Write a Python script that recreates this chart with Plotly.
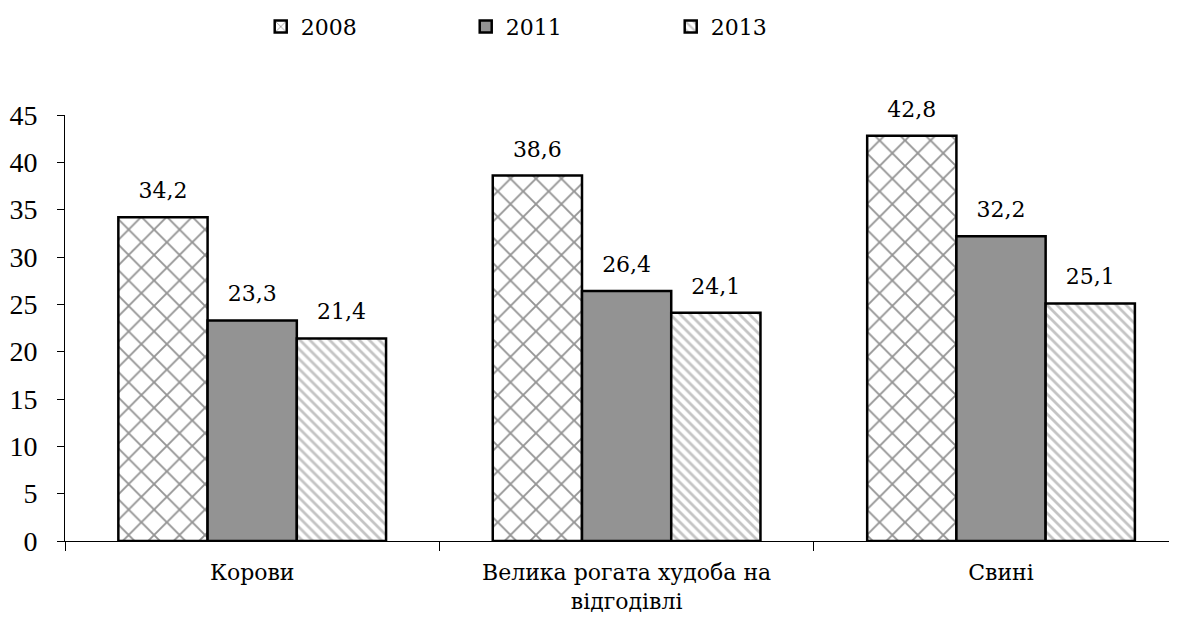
import plotly.graph_objects as go

categories = ["Корови", "Велика рогата худоба на<br>відгодівлі", "Свині"]
years = ["2008", "2011", "2013"]
values_2008 = [34.2, 38.6, 42.8]
values_2011 = [23.3, 26.4, 32.2]
values_2013 = [21.4, 24.1, 25.1]
y_ticks = [0, 5, 10, 15, 20, 25, 30, 35, 40, 45]

label_font = "DejaVu Serif"
tick_font = "Liberation Serif"

series = [
    (years[0], values_2008, dict(color="white", line=dict(color="black", width=2.5),
                                 pattern=dict(shape="x", fgcolor="#2a2a2a", bgcolor="white", size=18, solidity=0.2))),
    (years[1], values_2011, dict(color="#939393", line=dict(color="black", width=2.5))),
    (years[2], values_2013, dict(color="white", line=dict(color="black", width=2.5),
                                 pattern=dict(shape="\\", fgcolor="#8a8a8a", bgcolor="white", size=7, solidity=0.4))),
]

fig = go.Figure()
for i, (name, vals, marker) in enumerate(series):
    fig.add_trace(go.Bar(name=name, x=categories, y=vals, marker=marker,
                         offsetgroup=str(i), hoverinfo="skip"))
for i, (name, vals, marker) in enumerate(series):
    fig.add_trace(go.Scatter(x=categories, y=vals, mode="markers+text", offsetgroup=str(i),
                             marker=dict(size=20, opacity=0), showlegend=False,
                             text=[f"{v:.1f}".replace(".", ",") for v in vals],
                             textposition="top center", cliponaxis=False, hoverinfo="skip",
                             textfont=dict(family=label_font, size=22, color="black")))

# the page adds an 8px body margin, so the figure is 8px smaller and margins compensate
fig.update_layout(
    width=1169, height=609,
    margin=dict(l=57, r=0, t=107, b=76, autoexpand=False),
    plot_bgcolor="white", paper_bgcolor="white",
    barmode="group", bargap=0.285, bargroupgap=0,
    scattermode="group", scattergap=0.285,
    separators=", ",
    showlegend=True,
    legend=dict(orientation="h", x=0.176, xanchor="left", y=1.207, yanchor="middle",
                font=dict(family=label_font, size=22, color="black"),
                entrywidth=160, traceorder="normal", itemclick=False),
    xaxis=dict(type="category", range=[-0.5, 2.47], showline=True, linecolor="black", linewidth=1,
               ticks="outside", tickson="boundaries", ticklen=9, tickcolor="black", automargin=False,
               ticklabelstandoff=12,
               tickfont=dict(family=label_font, size=22, color="black"), showgrid=False),
    yaxis=dict(range=[0, 45], tickvals=y_ticks, showline=True, linecolor="black", linewidth=1,
               ticks="outside", ticklen=7, tickcolor="black", showgrid=False, zeroline=False,
               automargin=False, ticklabelstandoff=14,
               tickfont=dict(family=tick_font, size=28, color="black")),
)

fig.write_html("out.html")
